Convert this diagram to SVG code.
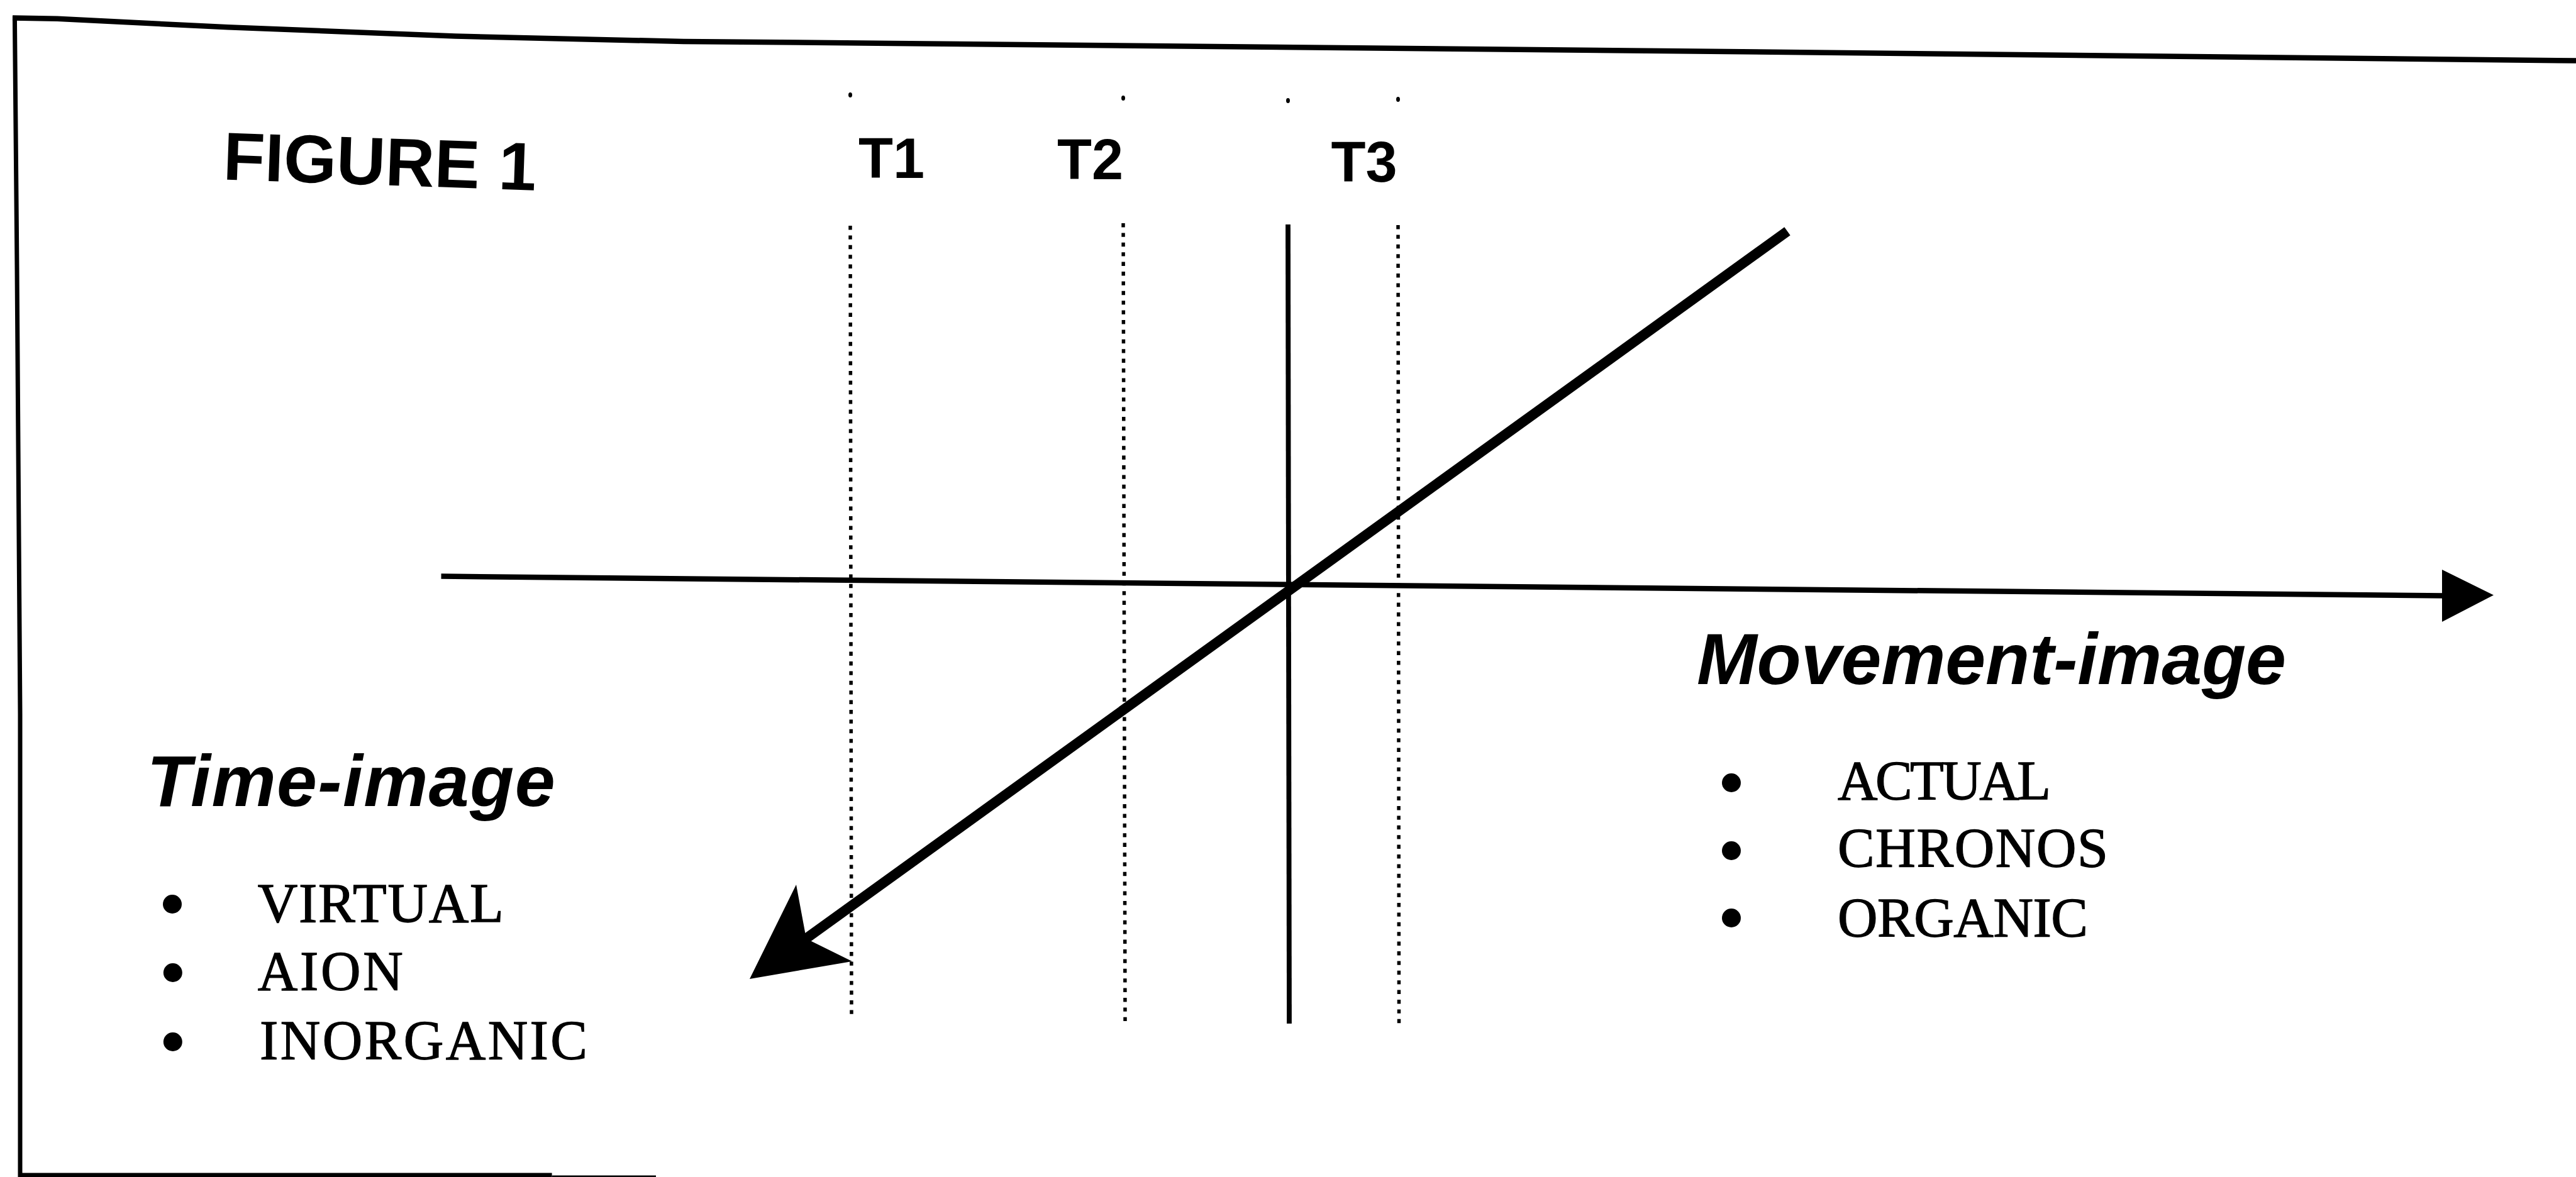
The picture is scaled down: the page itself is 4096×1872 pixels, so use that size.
<svg xmlns="http://www.w3.org/2000/svg" width="4096" height="1872" viewBox="0 0 4096 1872">
  <style>
    .frame { fill: none; stroke: #000; stroke-linejoin: round; }
    .ax { stroke: #000; fill: none; stroke-linecap: butt; }
    .dot { stroke: #000; stroke-width: 5.5; stroke-dasharray: 6.4 9; fill: none; }
    .head { fill: #000; stroke: none; }
    .title { font-family: "Liberation Sans", Arial, sans-serif; font-weight: bold; fill: #000; }
    .heading { font-family: "Liberation Sans", Arial, sans-serif; font-weight: bold; font-style: italic; font-size: 115px; fill: #000; }
    .item { font-family: "Liberation Serif", "Times New Roman", serif; font-size: 88px; fill: #000; stroke: #000; stroke-width: 1.3; }
    .bullet { fill: #000; }
    .tick { fill: #000; }
  </style>
  <rect x="0" y="0" width="4096" height="1872" fill="#fff"/>

  <g id="frame">
    <polyline class="frame" stroke-width="8.5" points="20,28.4 91,29.8 362,43.3 724,57.5 1087,66 1420,68.9 2840,83 4096,96.6"/>
    <polyline class="frame" stroke-width="7" points="23.4,25.6 27,426 32,1136 32,1872"/>
    <line class="frame" stroke-width="7" x1="32" y1="1869" x2="877.6" y2="1869"/>
    <line class="frame" stroke-width="3" x1="877.6" y1="1871" x2="1043" y2="1871"/>
  </g>

  <g id="figure-title">
    <text class="title" x="354" y="285.4" font-size="108" transform="rotate(2 354 285.4)">FIGURE 1</text>
  </g>

  <g id="label-T1">
    <text class="title" x="1365" y="282.6" font-size="90">T1</text>
  </g>
  <g id="label-T2">
    <text class="title" x="1681" y="285.4" font-size="90">T2</text>
  </g>
  <g id="label-T3">
    <text class="title" x="2116.5" y="289" font-size="90">T3</text>
  </g>

  <g id="connectors">
    <ellipse class="tick" cx="1352" cy="151" rx="3" ry="4"/>
    <ellipse class="tick" cx="1786" cy="156" rx="3" ry="4"/>
    <ellipse class="tick" cx="2048" cy="160" rx="3" ry="4"/>
    <ellipse class="tick" cx="2223" cy="158" rx="3" ry="4"/>
    <line id="line-T1" class="dot" x1="1352" y1="359" x2="1354" y2="1621"/>
    <line id="line-T2" class="dot" x1="1786" y1="355" x2="1789" y2="1624"/>
    <line id="line-present" class="ax" stroke-width="7.8" x1="2048" y1="357" x2="2050" y2="1628"/>
    <line id="line-T3" class="dot" x1="2223" y1="358" x2="2224.5" y2="1628"/>
    <line id="axis-movement" class="ax" stroke-width="8.5" x1="701.5" y1="916.6" x2="3886" y2="947.5"/>
    <polygon class="head" points="3883,906 3965,946.4 3883,989"/>
    <line id="axis-time" class="ax" stroke-width="16" x1="2842" y1="367.8" x2="1280" y2="1494"/>
    <polygon class="head" points="1192,1557 1266,1407 1282,1493 1355,1529"/>
  </g>

  <g id="node-time-image">
    <text class="heading" x="233.6" y="1281.5" textLength="649">Time-image</text>
    <circle class="bullet" cx="274" cy="1438" r="15"/>
    <circle class="bullet" cx="274.8" cy="1547" r="15"/>
    <circle class="bullet" cx="274.8" cy="1657" r="15"/>
    <text class="item" x="409.7" y="1466" textLength="391">VIRTUAL</text>
    <text class="item" x="409.7" y="1574" textLength="231">AION</text>
    <text class="item" x="413" y="1684" textLength="521">INORGANIC</text>
  </g>

  <g id="node-movement-image">
    <text class="heading" x="2698" y="1088" textLength="937">Movement-image</text>
    <circle class="bullet" cx="2753" cy="1245" r="15"/>
    <circle class="bullet" cx="2753" cy="1353" r="15"/>
    <circle class="bullet" cx="2753" cy="1460" r="15"/>
    <text class="item" x="2922" y="1271" textLength="339">ACTUAL</text>
    <text class="item" x="2922" y="1378" textLength="430">CHRONOS</text>
    <text class="item" x="2922" y="1489" textLength="398">ORGANIC</text>
  </g>
</svg>
